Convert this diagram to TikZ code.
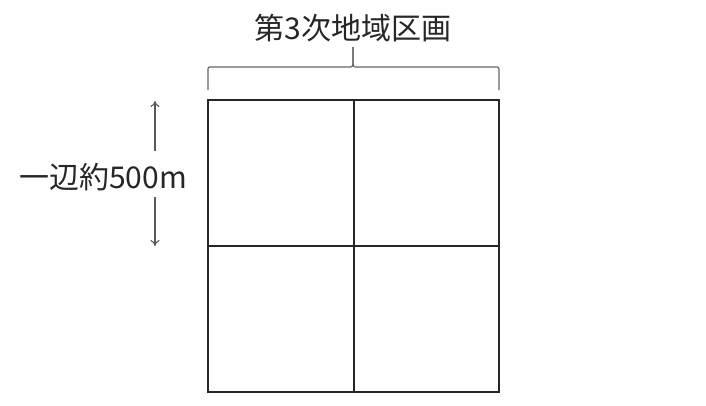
\documentclass[tikz,border=0pt]{standalone}
\usepackage{fontspec}
\setmainfont{Noto Sans CJK JP}
\usetikzlibrary{arrows.meta}

\begin{document}
\begin{tikzpicture}[x=1pt,y=-1pt,
	grid/.style={draw=black!85,line width=1.8pt},
	label/.style={font=\fontsize{30}{34}\selectfont,text=black!85,inner sep=0pt},
	dim/.style={draw=black!65,line width=1.1pt,-{To[length=6pt,width=9pt]}},
	brc/.style={draw=black!60,line width=1.2pt}]
	\useasboundingbox (0,0) rectangle (706,405);
	\coordinate (tl) at (208,100);
	\coordinate (tr) at (499,100);
	\coordinate (bl) at (208,392);
	\coordinate (br) at (499,392);
	\coordinate (tm) at (354,100);
	\coordinate (bm) at (354,392);
	\coordinate (lm) at (208,246);
	\coordinate (rm) at (499,246);
	\draw[grid] (tl) rectangle (br);
	\draw[grid] (tm) -- (bm)
		(lm) -- (rm);
	\node[label] (title) at (353,28) {第3次地域区画};
	\node[label] (side) at (103,177) {一辺約500m};
	\coordinate (brL) at (208,90);
	\coordinate (brR) at (499,90);
	\coordinate (tip) at (353,47);
	\draw[brc] (brL) -- (208,71) .. controls (208,67) .. (212,67) -- (348,67)
		.. controls (353,67) .. (353,60) -- (tip);
	\draw[brc] (brR) -- (499,71) .. controls (499,67) .. (495,67) -- (358,67)
		.. controls (353,67) .. (353,60) -- (tip);
	\coordinate (arT) at (155,101);
	\coordinate (arB) at (155,246);
	\draw[dim] (155,151) -- (arT);
	\draw[dim] (155,197) -- (arB);
\end{tikzpicture}
\end{document}
